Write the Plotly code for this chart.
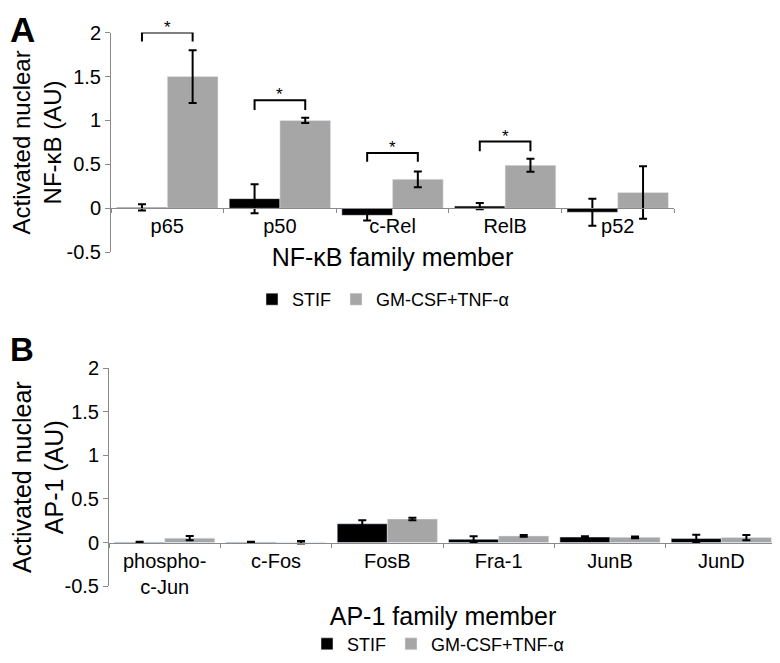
import plotly.graph_objects as go

# panel A: NF-kB family
nfkb_members = ["p65", "p50", "c-Rel", "RelB", "p52"]
nfkb_stif = [0.01, 0.11, -0.08, 0.025, -0.045]
nfkb_stif_err = [0.035, 0.165, 0.06, 0.035, 0.155]
nfkb_gm = [1.50, 1.0, 0.33, 0.49, 0.18]
nfkb_gm_err = [0.30, 0.03, 0.09, 0.075, 0.30]

# significance brackets (panel A)
sig_members = ["p65", "p50", "c-Rel", "RelB"]
sig_top = [2.0, 1.23, 0.63, 0.76]
sig_leg = [0.1, 0.11, 0.1, 0.11]

# panel B: AP-1 family
ap1_members = ["phospho-<br>c-Jun", "c-Fos", "FosB", "Fra-1", "JunB", "JunD"]
ap1_stif = [0.005, 0.005, 0.215, 0.037, 0.063, 0.045]
ap1_stif_err = [0.004, 0.003, 0.04, 0.035, 0.01, 0.045]
ap1_gm = [0.05, 0.003, 0.27, 0.075, 0.06, 0.057]
ap1_gm_err = [0.025, 0.015, 0.015, 0.01, 0.01, 0.03]

y_ticks = [-0.5, 0, 0.5, 1, 1.5, 2]
y_ticktext = ["-0.5", "0", "0.5", "1", "1.5", "2"]
y_range = [-0.5, 2]

FONT = "Liberation Sans, Arial, sans-serif"
BLACK = "#000000"
GREY = "#a6a6a6"
AXIS = "#8a8a8a"

# the page body has an 8px margin, so the figure is a bit smaller than the window
PAD = 8
W, H = 780 - PAD, 663 - PAD


def px(x):
    return (x - PAD) / W


def py(y):
    return 1 - (y - PAD) / H


dom_a = [py(256), py(33)]
dom_b = [py(595), py(374)]
xdom_a = [px(111), px(674)]
xdom_b = [px(109), px(777)]


def zero_pos(dom):
    return dom[0] + (0 - y_range[0]) / (y_range[1] - y_range[0]) * (dom[1] - dom[0])


def err(vals):
    return dict(type="data", array=vals, color=BLACK, thickness=2, width=4)


fig = go.Figure()
fig.add_trace(go.Bar(x=nfkb_members, y=nfkb_stif, error_y=err(nfkb_stif_err),
                     name="STIF", marker_color=BLACK, xaxis="x", yaxis="y", legend="legend"))
fig.add_trace(go.Bar(x=nfkb_members, y=nfkb_gm, error_y=err(nfkb_gm_err),
                     name="GM-CSF+TNF-α", marker_color=GREY, xaxis="x", yaxis="y", legend="legend"))
fig.add_trace(go.Bar(x=ap1_members, y=ap1_stif, error_y=err(ap1_stif_err),
                     name="STIF", marker_color=BLACK, xaxis="x2", yaxis="y2", legend="legend2"))
fig.add_trace(go.Bar(x=ap1_members, y=ap1_gm, error_y=err(ap1_gm_err),
                     name="GM-CSF+TNF-α", marker_color=GREY, xaxis="x2", yaxis="y2", legend="legend2"))

# brackets between the two bars of a group
off = 0.225
for m, top, leg in zip(sig_members, sig_top, sig_leg):
    i = nfkb_members.index(m)
    fig.add_shape(type="path", xref="x", yref="y",
                  path=f"M {i - off},{top - leg} L {i - off},{top} L {i + off},{top} L {i + off},{top - leg}",
                  line=dict(color=BLACK, width=2))
    fig.add_annotation(x=i, y=top, xref="x", yref="y", text="*", showarrow=False,
                       yanchor="bottom", yshift=-6, font=dict(size=17, color=BLACK))

xcommon = dict(type="category", showline=True, linecolor=AXIS, linewidth=1, automargin=False,
               ticks="outside", tickson="boundaries", ticklen=4, tickcolor=AXIS,
               tickfont=dict(size=20, color=BLACK), anchor="free")
ycommon = dict(range=y_range, tickvals=y_ticks, ticktext=y_ticktext, showline=True,
               linecolor=AXIS, linewidth=1, ticks="outside", ticklen=5, tickcolor=AXIS,
               automargin=False, showgrid=False, zeroline=False,
               tickfont=dict(size=20, color=BLACK))

fig.update_layout(
    width=W, height=H,
    margin=dict(l=0, r=0, t=0, b=0),
    paper_bgcolor="white", plot_bgcolor="white",
    font=dict(family=FONT, color=BLACK),
    barmode="group", bargap=0.1, bargroupgap=0,
    xaxis=dict(xcommon, domain=xdom_a, position=zero_pos(dom_a),
               title=dict(text="NF-κB family member", font=dict(size=25), standoff=12)),
    yaxis=dict(ycommon, domain=dom_a, anchor="x",
               title=dict(text="Activated nuclear<br>NF-κB (AU)", font=dict(size=24), standoff=22)),
    xaxis2=dict(xcommon, domain=xdom_b, position=zero_pos(dom_b),
                title=dict(text="AP-1 family member", font=dict(size=25), standoff=10)),
    yaxis2=dict(ycommon, domain=dom_b, anchor="x2",
                title=dict(text="Activated nuclear<br>AP-1 (AU)", font=dict(size=25), standoff=22)),
    legend=dict(orientation="h", x=px(383), xanchor="center", y=py(304), yanchor="middle",
                font=dict(size=18), itemwidth=30, bgcolor="rgba(0,0,0,0)"),
    legend2=dict(orientation="h", x=px(438), xanchor="center", y=py(654), yanchor="middle",
                 font=dict(size=18), itemwidth=30, bgcolor="rgba(0,0,0,0)"),
    showlegend=True,
)

fig.add_annotation(text="<b>A</b>", x=0, y=1, xref="paper", yref="paper",
                   xanchor="left", yanchor="top", showarrow=False, font=dict(size=35))
fig.add_annotation(text="<b>B</b>", x=0, y=py(334), xref="paper", yref="paper",
                   xanchor="left", yanchor="top", showarrow=False, font=dict(size=33))

fig.write_html("out.html")
